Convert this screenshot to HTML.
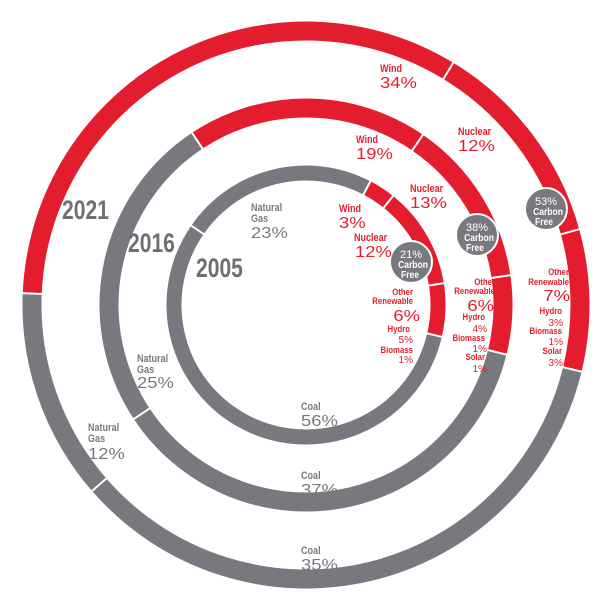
<!DOCTYPE html>
<html><head><meta charset="utf-8"><style>
html,body{margin:0;padding:0;background:#fff;}
svg{display:block;}
text{font-family:"Liberation Sans",sans-serif;}
.b{font-weight:bold;font-size:11px;}
.p{font-size:16px;}
.r{fill:#e31c2e;}
.g{fill:#77797e;}
.y{font-weight:bold;font-size:27px;fill:#6d6f74;}
.c{fill:#fff;font-size:10px;font-weight:bold;text-anchor:middle;}
</style></head><body>
<svg id="s" width="610" height="610" viewBox="0 0 610 610" xmlns="http://www.w3.org/2000/svg">
<g id="rings"></g>
<circle cx="411" cy="262" r="21" fill="#77797e" stroke="#fff" stroke-width="2"/>
<circle cx="477" cy="235" r="21" fill="#77797e" stroke="#fff" stroke-width="2"/>
<circle cx="546" cy="209" r="21" fill="#77797e" stroke="#fff" stroke-width="2"/>
<g class="c">
<text x="411" y="258" style="font-weight:normal;font-size:11px">21%</text><text class="n" x="413" y="268">Carbon</text><text class="n" x="410" y="278">Free</text>
<text x="477" y="231" style="font-weight:normal;font-size:11px">38%</text><text class="n" x="479" y="241">Carbon</text><text class="n" x="475" y="251">Free</text>
<text x="546" y="205" style="font-weight:normal;font-size:11px">53%</text><text class="n" x="548" y="215">Carbon</text><text class="n" x="544" y="225">Free</text>
</g>
<text class="y" x="62" y="219">2021</text>
<text class="y" x="128" y="252">2016</text>
<text class="y" x="196" y="277">2005</text>

<text class="b r" x="380" y="72">Wind</text><text class="p r" x="380" y="88">34%</text>
<text class="b r" x="458" y="135">Nuclear</text><text class="p r" x="458" y="151">12%</text>
<text class="b r" x="356" y="143">Wind</text><text class="p r" x="356" y="159">19%</text>
<text class="b r" x="410" y="192">Nuclear</text><text class="p r" x="410" y="208">13%</text>
<text class="b r" x="339" y="212">Wind</text><text class="p r" x="339" y="228">3%</text>
<text class="b r" x="354" y="241">Nuclear</text><text class="p r" x="355" y="257">12%</text>

<text class="b g" x="251" y="211">Natural</text><text class="b g" x="251" y="222">Gas</text><text class="p g" x="251" y="238">23%</text>
<text class="b g" x="137" y="362">Natural</text><text class="b g" x="137" y="373">Gas</text><text class="p g" x="137" y="388">25%</text>
<text class="b g" x="88" y="431">Natural</text><text class="b g" x="88" y="442">Gas</text><text class="p g" x="88" y="459">12%</text>
<text class="b g" x="301" y="410">Coal</text><text class="p g" x="301" y="426">56%</text>
<text class="b g" x="301" y="479">Coal</text><text class="p g" x="301" y="495">37%</text>
<text class="b g" x="301" y="554">Coal</text><text class="p g" x="301" y="570">35%</text>

<g text-anchor="end">
<text class="b r" x="413" y="295" style="font-size:9.5px">Other</text><text class="b r" x="413" y="304" style="font-size:9.5px">Renewable</text><text class="p r" x="420" y="321">6%</text>
<text class="b r" x="410" y="332" style="font-size:9.5px">Hydro</text><text class="r" x="413" y="343" style="font-size:10px">5%</text>
<text class="b r" x="413" y="353" style="font-size:9.5px">Biomass</text><text class="r" x="413" y="363" style="font-size:10px">1%</text>

<text class="b r" x="495" y="285" style="font-size:9.5px">Other</text><text class="b r" x="495" y="294" style="font-size:9.5px">Renewable</text><text class="p r" x="494" y="311">6%</text>
<text class="b r" x="485" y="320" style="font-size:9.5px">Hydro</text><text class="r" x="487" y="332" style="font-size:10px">4%</text>
<text class="b r" x="485" y="341" style="font-size:9.5px">Biomass</text><text class="r" x="487" y="352" style="font-size:10px">1%</text>
<text class="b r" x="485" y="360" style="font-size:9.5px">Solar</text><text class="r" x="487" y="372" style="font-size:10px">1%</text>

<text class="b r" x="569" y="275" style="font-size:9.5px">Other</text><text class="b r" x="569" y="285" style="font-size:9.5px">Renewable</text><text class="p r" x="570" y="301">7%</text>
<text class="b r" x="562" y="314" style="font-size:9.5px">Hydro</text><text class="r" x="563" y="326" style="font-size:10px">3%</text>
<text class="b r" x="562" y="334" style="font-size:9.5px">Biomass</text><text class="r" x="563" y="345" style="font-size:10px">1%</text>
<text class="b r" x="562" y="354" style="font-size:9.5px">Solar</text><text class="r" x="563" y="366" style="font-size:10px">3%</text>
</g>
</svg>
<script>
(function(){
var cx=306,cy=305,R="#e31c2e",G="#77797e";
var rings=[
 {r:274,w:19,segs:[[272.4,391.3,R],[391.3,434.5,R],[434.5,463.6,R],[103.6,229,G],[229,272.4,G]]},
 {r:197,w:19,segs:[[326.5,394.5,R],[394.5,441.7,R],[441.7,463.9,R],[103.9,236.5,G],[236.5,326.5,G]]},
 {r:132,w:15,segs:[[27.5,38.6,R],[38.6,81,R],[81,103.2,R],[103.2,304.7,G],[304.7,387.5,G]]}
];
function pt(r,a){a=a*Math.PI/180;return [cx+r*Math.sin(a),cy-r*Math.cos(a)];}
var h="";
rings.forEach(function(g){
 g.segs.forEach(function(s){
  var p1=pt(g.r,s[0]),p2=pt(g.r,s[1]),large=(s[1]-s[0])>180?1:0;
  h+='<path d="M'+p1[0]+' '+p1[1]+' A'+g.r+' '+g.r+' 0 '+large+' 1 '+p2[0]+' '+p2[1]+'" fill="none" stroke="'+s[2]+'" stroke-width="'+g.w+'"/>';
 });
 g.segs.forEach(function(s){
  var a=pt(g.r-g.w/2-1,s[0]),b=pt(g.r+g.w/2+1,s[0]);
  h+='<line x1="'+a[0]+'" y1="'+a[1]+'" x2="'+b[0]+'" y2="'+b[1]+'" stroke="#fff" stroke-width="2"/>';
 });
});
document.getElementById("rings").innerHTML=h;
function fit(sel,f){
 document.querySelectorAll(sel).forEach(function(t){
  var w=t.getComputedTextLength();
  t.setAttribute("textLength",(w*f).toFixed(1));
  t.setAttribute("lengthAdjust","spacingAndGlyphs");
 });
}
fit(".b",0.82);fit(".y",0.78);fit(".n",0.85);fit(".p",1.15);
})();
</script>
</body></html>
